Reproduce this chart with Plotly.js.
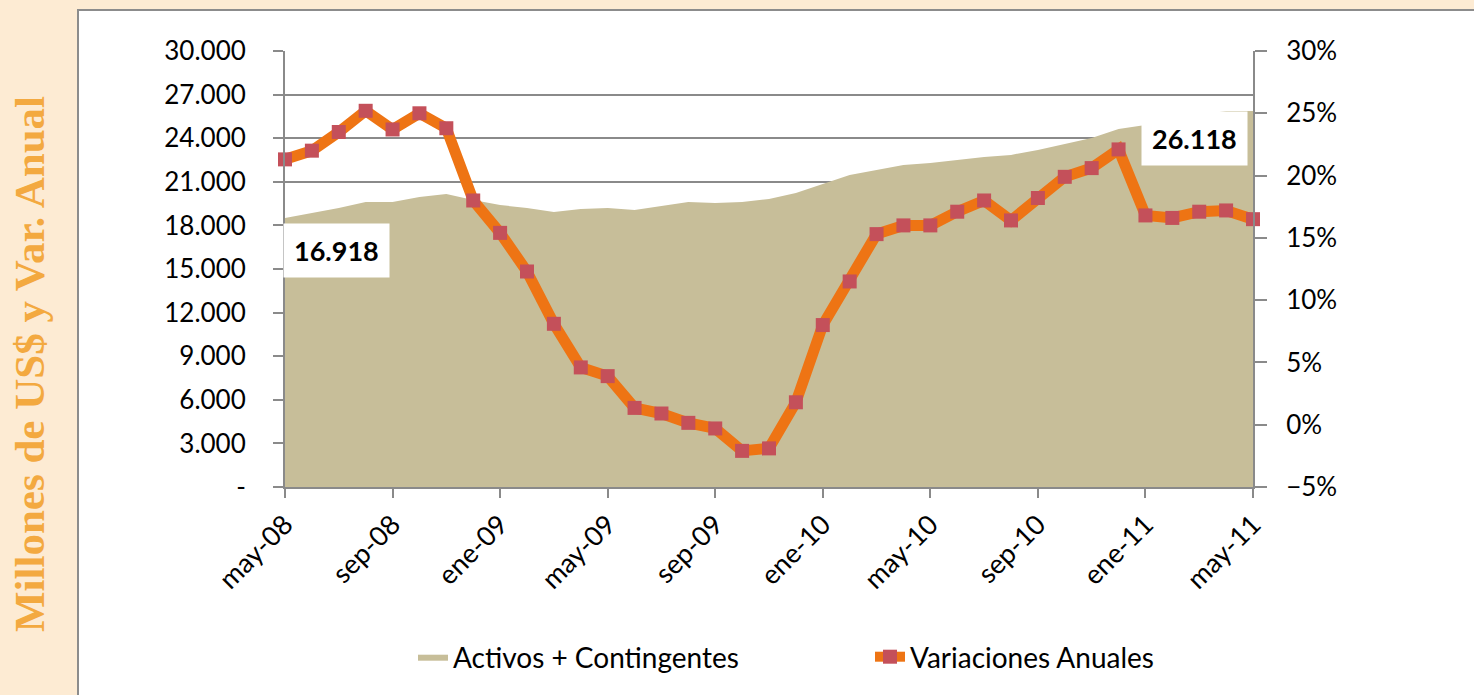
<!DOCTYPE html>
<html>
<head>
<meta charset="utf-8">
<script src="https://cdn.plot.ly/plotly-3.0.1.min.js"></script>
<style>
  html, body { margin: 0; padding: 0; background: #fdebd3; }
  #grafico { width: 1474px; height: 695px; }
</style>
</head>
<body>
<div id="grafico"></div>
<script>
// meses (may-08 .. may-11)
const meses = [
    'may-08', 'jun-08', 'jul-08', 'ago-08', 'sep-08', 'oct-08', 'nov-08', 'dic-08',
    'ene-09', 'feb-09', 'mar-09', 'abr-09', 'may-09', 'jun-09', 'jul-09', 'ago-09',
    'sep-09', 'oct-09', 'nov-09', 'dic-09', 'ene-10', 'feb-10', 'mar-10', 'abr-10',
    'may-10', 'jun-10', 'jul-10', 'ago-10', 'sep-10', 'oct-10', 'nov-10', 'dic-10',
    'ene-11', 'feb-11', 'mar-11', 'abr-11', 'may-11'
];

// Activos + Contingentes (millones de US$)
const activos = [
    18510, 18850, 19200, 19610, 19610, 19950, 20160, 19750,
    19400, 19200, 18920, 19130, 19200, 19060, 19340, 19610,
    19540, 19610, 19820, 20230, 20850, 21470, 21810, 22160,
    22290, 22500, 22710, 22850, 23190, 23600, 24010, 24630,
    24900, 25250, 25600, 25870, 25870
];

// Variaciones anuales (%)
const variaciones = [
    21.3, 22.0, 23.5, 25.2, 23.7, 25.0, 23.8, 18.0,
    15.4, 12.3, 8.1, 4.6, 3.9, 1.35, 0.9, 0.15,
    -0.3, -2.1, -1.9, 1.8, 8.0, 11.5, 15.3, 16.0,
    16.0, 17.1, 18.0, 16.4, 18.2, 19.9, 20.6, 22.1,
    16.8, 16.6, 17.1, 17.2, 16.5
];

const etiquetasX = ['may-08', 'sep-08', 'ene-09', 'may-09', 'sep-09', 'ene-10', 'may-10', 'sep-10', 'ene-11', 'may-11'];
const ticksIzq = [0, 3000, 6000, 9000, 12000, 15000, 18000, 21000, 24000, 27000, 30000];
const textosIzq = ['-', '3.000', '6.000', '9.000', '12.000', '15.000', '18.000', '21.000', '24.000', '27.000', '30.000'];
const valorInicial = '16.918';
const valorFinal = '26.118';

const fuente = 'Lato, "Open Sans", sans-serif';
const gris = '#8a8a8a';

const data = [
    {
        x: meses,
        y: activos,
        name: 'Activos + Contingentes',
        type: 'scatter',
        mode: 'lines',
        fill: 'tozeroy',
        fillcolor: '#c7be99',
        line: { color: '#c7be99', width: 0 },
        legend: 'legend'
    },
    {
        x: meses,
        y: variaciones,
        name: 'Variaciones Anuales',
        type: 'scatter',
        mode: 'lines+markers',
        yaxis: 'y2',
        cliponaxis: false,
        line: { color: '#ee7414', width: 11 },
        marker: { symbol: 'square', size: 14, color: '#c4505a', line: { width: 0 } },
        legend: 'legend2'
    }
];

// posiciones en coordenadas de papel (área de trazado 285..1253 x 51..487)
const px = v => (v - 285) / 968;
const py = v => (487 - v) / 436;

function leyenda(xPix) {
    return {
        orientation: 'h',
        xref: 'container',
        yref: 'container',
        x: xPix / 1474,
        xanchor: 'left',
        y: 1 - 657 / 695,
        yanchor: 'middle',
        font: { size: 28, family: fuente },
        bgcolor: 'rgba(0,0,0,0)'
    };
}

const layout = {
    width: 1474,
    height: 695,
    margin: { l: 285, r: 221, t: 51, b: 208, autoexpand: false },
    paper_bgcolor: '#fdebd3',
    plot_bgcolor: 'rgba(0,0,0,0)',
    separators: ',.',
    showlegend: true,
    font: { family: fuente, color: '#000' },
    xaxis: {
        type: 'category',
        range: [0, 36],
        tickvals: etiquetasX,
        ticktext: etiquetasX,
        tickangle: -45,
        tickfont: { size: 27, family: fuente },
        ticks: 'outside',
        ticklen: 9,
        tickwidth: 2,
        tickcolor: gris,
        showline: true,
        linecolor: gris,
        linewidth: 2,
        showgrid: false,
        zeroline: false
    },
    yaxis: {
        range: [0, 30000],
        tickvals: ticksIzq,
        ticktext: textosIzq,
        tickfont: { size: 26, family: fuente },
        ticks: 'outside',
        ticklen: 10,
        tickwidth: 2,
        tickcolor: gris,
        ticklabelstandoff: 22,
        showline: true,
        linecolor: gris,
        linewidth: 2,
        showgrid: true,
        gridcolor: gris,
        gridwidth: 2,
        zeroline: false
    },
    yaxis2: {
        overlaying: 'y',
        side: 'right',
        range: [-5, 30],
        dtick: 5,
        tick0: 0,
        ticksuffix: '%',
        tickfont: { size: 26, family: fuente },
        ticks: 'outside',
        ticklen: 12,
        tickwidth: 2,
        tickcolor: gris,
        ticklabelstandoff: 14,
        showline: true,
        linecolor: gris,
        linewidth: 2,
        showgrid: false,
        zeroline: false
    },
    legend: leyenda(413),
    legend2: leyenda(870),
    shapes: [
        {
            type: 'rect', xref: 'paper', yref: 'paper', layer: 'below',
            x0: px(78), x1: px(1490), y0: py(710), y1: py(10),
            fillcolor: '#ffffff',
            line: { color: '#8c8c8c', width: 2 }
        }
    ],
    annotations: [
        {
            xref: 'paper', yref: 'paper',
            x: px(336), y: py(250),
            xanchor: 'center', yanchor: 'middle',
            text: valorInicial,
            showarrow: false,
            bgcolor: '#ffffff',
            borderpad: 10,
            font: { size: 27, family: fuente, weight: 'bold', color: '#000' }
        },
        {
            xref: 'paper', yref: 'paper',
            x: px(1194), y: py(138),
            xanchor: 'center', yanchor: 'middle',
            text: valorFinal,
            showarrow: false,
            bgcolor: '#ffffff',
            borderpad: 10,
            font: { size: 27, family: fuente, weight: 'bold', color: '#000' }
        },
        {
            xref: 'paper', yref: 'paper',
            x: px(29), y: py(364),
            xanchor: 'center', yanchor: 'middle',
            text: 'Millones de US$ y Var. Anual',
            textangle: -90,
            showarrow: false,
            font: { size: 43, family: '"Liberation Serif", "DejaVu Serif", serif', weight: 'bold', color: '#f3a940' }
        }
    ]
};

Plotly.newPlot('grafico', data, layout, { displayModeBar: false, staticPlot: true });
</script>
</body>
</html>
